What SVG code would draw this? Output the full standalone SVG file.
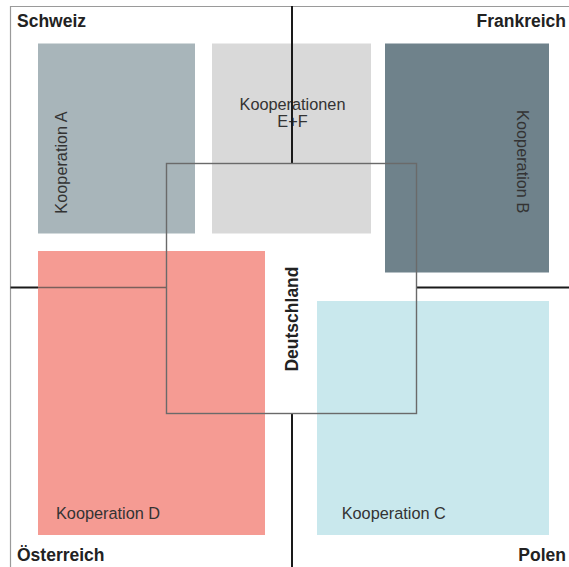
<svg xmlns="http://www.w3.org/2000/svg" width="569" height="567" viewBox="0 0 569 567">
<style>
.frame{fill:none;stroke:#9a9a9a;stroke-width:1.2}
.axis{fill:none;stroke:#1a1a1a;stroke-width:2}
.axis-dim{fill:none;stroke:#7a5f5b;stroke-width:1.6}
.box{fill:none;stroke:#6a6a6a;stroke-width:1.4}
.lbl{font-family:"Liberation Sans",Arial,sans-serif;font-size:16.3px;fill:#333333}
.cty{font-family:"Liberation Sans",Arial,sans-serif;font-size:17.5px;font-weight:bold;fill:#222222}
</style>
<rect width="569" height="567" fill="#ffffff"/>
<g id="frame">
<path class="frame" d="M10.5,567 V6.5 H569"/>
</g>
<g id="deutschland-fill">
<rect x="166.5" y="163.5" width="250" height="250" fill="#ffffff"/>
</g>
<g id="kooperation-a">
<rect x="38" y="43.5" width="157" height="190" fill="#a8b5ba"/>
<text class="lbl" transform="translate(67.3,162.5) rotate(-90)" text-anchor="middle">Kooperation A</text>
</g>
<g id="kooperationen-ef">
<rect x="212" y="43.5" width="159" height="190" fill="#d9d9d9"/>
<text class="lbl" x="292.5" y="110" text-anchor="middle">Kooperationen</text>
<text class="lbl" x="292.5" y="127.3" text-anchor="middle">E+F</text>
</g>
<g id="kooperation-b">
<rect x="385" y="43.5" width="164" height="229" fill="#6f828b"/>
<text class="lbl" transform="translate(516.7,161.7) rotate(90)" text-anchor="middle">Kooperation B</text>
</g>
<g id="kooperation-d">
<rect x="38" y="251" width="227" height="284" fill="#f59b93"/>
<text class="lbl" x="56" y="519">Kooperation D</text>
</g>
<g id="kooperation-c">
<rect x="317" y="301" width="232" height="234" fill="#c9e8ed"/>
<text class="lbl" x="341.7" y="519">Kooperation C</text>
</g>
<g id="connectors">
<path class="axis" d="M292,6 V163.5 M292,413.5 V567 M10.5,287.5 H38 M416.5,287.5 H569"/>
<path class="axis-dim" d="M38,287.5 H166.5"/>
</g>
<g id="deutschland">
<rect class="box" x="166.5" y="163.5" width="250" height="250"/>
<text class="cty" transform="translate(298.3,319) rotate(-90)" text-anchor="middle">Deutschland</text>
</g>
<g id="schweiz"><text class="cty" x="17" y="27.3">Schweiz</text></g>
<g id="frankreich"><text class="cty" x="566" y="27.3" text-anchor="end">Frankreich</text></g>
<g id="oesterreich"><text class="cty" x="17" y="561">Österreich</text></g>
<g id="polen"><text class="cty" x="566" y="561" text-anchor="end">Polen</text></g>
</svg>
